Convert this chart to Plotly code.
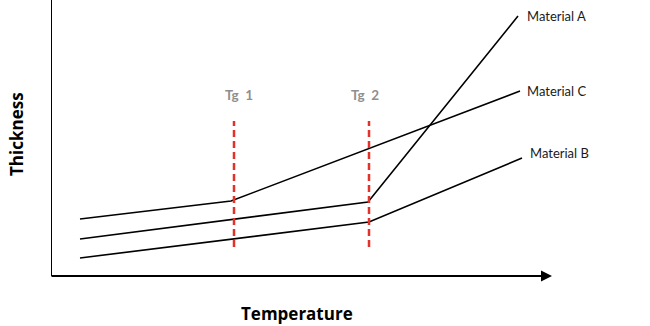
import plotly.graph_objects as go

# Data (arbitrary schematic units)
series_names = ["Material A", "Material B", "Material C"]
mat_a_x = [29, 317, 467]
mat_a_y = [37, 74, 260]
mat_b_x = [29, 318, 471]
mat_b_y = [18, 54, 118]
mat_c_x = [29, 180, 469]
mat_c_y = [57, 75, 185]

tg_labels = ["Tg  1", "Tg  2"]
tg_x = [183, 318]
tg_y_span = [29, 155]

x_title = "Temperature"
y_title = "Thickness"

X_MAX = 502
Y_MAX = 276

fig = go.Figure()
for xs, ys, name in [(mat_a_x, mat_a_y, series_names[0]),
                     (mat_b_x, mat_b_y, series_names[1]),
                     (mat_c_x, mat_c_y, series_names[2])]:
    fig.add_trace(go.Scatter(x=xs, y=ys, mode="lines", name=name,
                             line=dict(color="black", width=1.6),
                             showlegend=False, hoverinfo="skip"))

for tx in tg_x:
    fig.add_trace(go.Scatter(x=[tx, tx], y=tg_y_span, mode="lines",
                             line=dict(color="#e3312b", width=2.5, dash="7px,4px"),
                             showlegend=False, hoverinfo="skip"))

annotations = []
# series labels
label_pos = {"Material A": (474, 260), "Material C": (474, 185), "Material B": (477, 123)}
for name, (lx, ly) in label_pos.items():
    annotations.append(dict(x=lx, y=ly, xref="x", yref="y", text=name, showarrow=False,
                            xanchor="left", yanchor="middle",
                            font=dict(family="Lato", size=13, color="#1a1a1a")))
for lbl, tx in zip(tg_labels, tg_x):
    annotations.append(dict(x=tx + 5 if tx < 200 else tx - 4, y=181, xref="x", yref="y",
                            text=lbl, showarrow=False, xanchor="center", yanchor="middle",
                            font=dict(family="Lato", size=13.5, color="#8f8f8f", weight="bold")))
# x axis arrow
annotations.append(dict(x=X_MAX - 1, y=0, ax=-1, ay=0, xref="x", yref="y",
                        axref="x", ayref="y", text="", showarrow=True,
                        arrowhead=2, arrowsize=1.1, arrowwidth=2, arrowcolor="black"))
# axis titles
annotations.append(dict(x=246 / X_MAX, y=0, xref="paper", yref="paper", yshift=-37,
                        text=x_title, showarrow=False, xanchor="center", yanchor="middle",
                        font=dict(family="Open Sans", size=17, color="black", weight="bold")))
annotations.append(dict(x=0, y=(276 - 134) / Y_MAX, xref="paper", yref="paper", xshift=-35,
                        text=y_title, showarrow=False, textangle=-90,
                        xanchor="center", yanchor="middle",
                        font=dict(family="Open Sans", size=17, color="black", weight="bold")))

fig.update_layout(
    width=650, height=326,
    margin=dict(l=51, r=650 - 51 - X_MAX, t=0, b=50),
    paper_bgcolor="white", plot_bgcolor="white",
    xaxis=dict(range=[0, X_MAX], visible=False, fixedrange=True),
    yaxis=dict(range=[0, Y_MAX], visible=False, fixedrange=True),
    annotations=annotations,
    shapes=[dict(type="line", xref="x", yref="paper", x0=0, x1=0, y0=0, y1=1,
                 line=dict(color="black", width=2))],
)

fig.write_html("out.html")
